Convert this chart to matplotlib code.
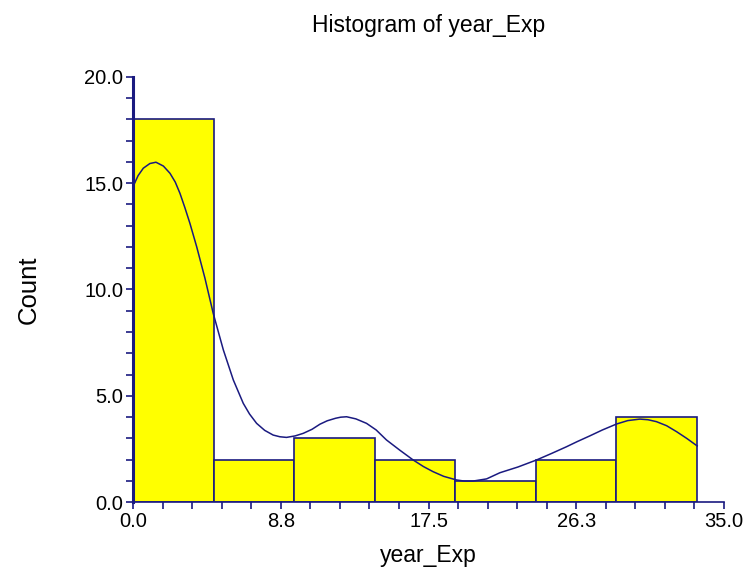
import matplotlib.pyplot as plt
import numpy as np

# histogram of year_Exp: 7 equal bins between the min and max value
counts = [18, 2, 3, 2, 1, 2, 4]
year_min = 0.0
year_max = 33.4

# density curve (scaled to counts)
curve_x = [0.0, 0.3, 0.61, 1.0, 1.36, 1.8, 2.19, 2.5, 2.78, 3.07, 3.37, 3.77,
           4.26, 4.75, 5.35, 5.94, 6.53, 6.9, 7.32, 7.8, 8.30, 8.7, 9.09, 9.6,
           10.08, 10.6, 11.07, 11.5, 12.0, 12.3, 12.65, 13.2, 13.83, 14.4,
           15.01, 15.8, 16.59, 17.2, 17.77, 18.4, 19.16, 19.6, 20.15, 20.94,
           21.73, 22.8, 23.90, 24.8, 25.67, 26.3, 27.05, 27.8, 28.64, 29.3,
           30.02, 30.5, 31.0, 31.6, 32.19, 32.8, 33.41]
curve_y = [14.83, 15.35, 15.70, 15.92, 15.98, 15.80, 15.46, 15.05, 14.52,
           13.85, 13.11, 12.01, 10.53, 8.88, 7.16, 5.75, 4.65, 4.15, 3.71,
           3.38, 3.16, 3.08, 3.05, 3.12, 3.24, 3.43, 3.67, 3.83, 3.95, 4.00,
           4.02, 3.92, 3.71, 3.40, 2.93, 2.45, 1.99, 1.68, 1.44, 1.22, 1.05,
           1.00, 1.00, 1.10, 1.39, 1.66, 1.99, 2.30, 2.61, 2.85, 3.12, 3.40,
           3.68, 3.84, 3.91, 3.88, 3.79, 3.60, 3.32, 3.00, 2.65]

x_ticks = [0.0, 8.75, 17.5, 26.25, 35.0]
x_tick_labels = ['0.0', '8.8', '17.5', '26.3', '35.0']
y_ticks = [0.0, 5.0, 10.0, 15.0, 20.0]
y_tick_labels = ['0.0', '5.0', '10.0', '15.0', '20.0']

navy = '#1a1a80'
plt.rcParams['font.family'] = ['Liberation Sans', 'DejaVu Sans']

fig = plt.figure(figsize=(7.46, 5.71), dpi=100)
ax = fig.add_axes([0.1783, 0.1203, 0.7922, 0.7454])

edges = np.linspace(year_min, year_max, len(counts) + 1)
ax.bar(edges[:-1], counts, width=np.diff(edges), align='edge',
       color='#ffff00', edgecolor=navy, linewidth=1.2, zorder=2)
ax.plot(curve_x, curve_y, color=navy, linewidth=1.1, zorder=3,
        solid_joinstyle='round')

ax.set_xlim(0, 35)
ax.set_ylim(0, 20)
ax.set_xticks(x_ticks)
ax.set_xticklabels(x_tick_labels)
ax.set_yticks(y_ticks)
ax.set_yticklabels(y_tick_labels)
ax.set_xticks(np.arange(0, 35.01, 1.75), minor=True)
ax.set_yticks(np.arange(0, 20.01, 1.0), minor=True)

for side in ['top', 'right']:
    ax.spines[side].set_visible(False)
ax.spines['left'].set_color(navy)
ax.spines['left'].set_linewidth(2.2)
ax.spines['bottom'].set_color(navy)
ax.spines['bottom'].set_linewidth(1.2)
ax.spines['left'].set_zorder(4)
ax.tick_params(which='both', direction='out', color=navy, length=5,
               width=1.2, labelsize=14.5, labelcolor='black', pad=2)

fig.text(0.575, 0.955, 'Histogram of year_Exp', ha='center', va='center',
         fontsize=16.5)
ax.set_xlabel('year_Exp', fontsize=16.5, labelpad=9)
ax.set_ylabel('Count', fontsize=18.5, labelpad=31)

fig.savefig('out.png', dpi=100)
